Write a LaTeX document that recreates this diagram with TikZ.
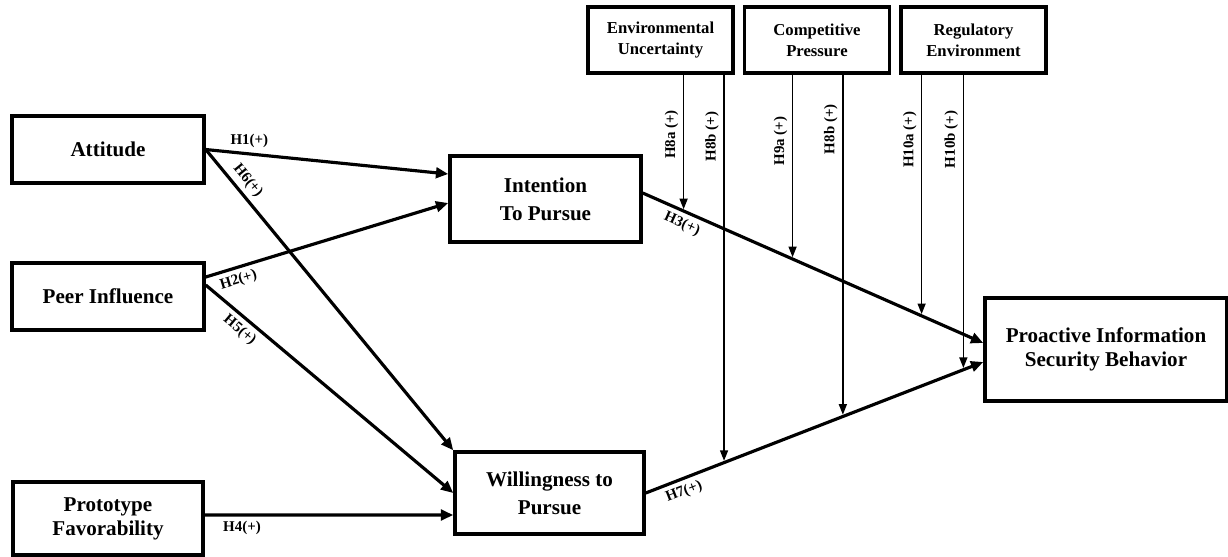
\documentclass[tikz,border=0pt]{standalone}
\usepackage{fontspec}
\setmainfont{Liberation Serif}
\usetikzlibrary{arrows.meta}

\begin{document}
\begin{tikzpicture}[x=0.02cm,y=-0.02cm,
  box/.style={draw,line width=2pt,inner sep=0pt,align=center,
    font=\fontsize{12}{13.5}\selectfont\bfseries},
  modbox/.style={draw,line width=1.8pt,inner sep=0pt,align=center,
    minimum width=2.9cm,minimum height=1.32cm,
    font=\fontsize{9.5}{12}\selectfont\bfseries},
  link/.style={line width=1.8pt,-{Triangle[length=7pt,width=6pt]}},
  mod/.style={line width=0.9pt,-{Triangle[length=6pt,width=4.5pt]},shorten >=1pt},
  hyp/.style={inner sep=2.5pt,font=\fontsize{8.5}{10}\selectfont\bfseries}]
\useasboundingbox (0,0) rectangle (1228,556);

% predictors
\node[box,minimum width=3.84cm,minimum height=1.34cm] (att) at (108,149.5) {Attitude};
\node[box,minimum width=3.84cm,minimum height=1.34cm] (peer) at (108,296.5) {Peer Influence};
\node[box,minimum width=3.8cm,minimum height=1.46cm] (proto) at (108,518.5) {Prototype\\Favorability};

% mediators and outcome
\node[box,minimum width=3.82cm,minimum height=1.72cm] (int) at (545.5,199) {Intention\\[2.5pt]To Pursue};
\node[box,minimum width=3.78cm,minimum height=1.64cm] (will) at (549.5,493) {Willingness to\\[2.5pt]Pursue};
\node[box,minimum width=4.84cm,minimum height=2.06cm] (pisb) at (1106,349.5) {Proactive Information\\Security Behavior};

% moderators
\node[modbox] (env) at (660.5,40) {Environmental\\Uncertainty};
\node[modbox] (comp) at (817,40) {Competitive\\Pressure};
\node[modbox] (reg) at (973.5,40) {Regulatory\\Environment};

% direct paths
\draw[link] (att.east) -- ([yshift=0.5cm]int.west) node[hyp,above,pos=0.18] {H1(+)};
\draw[link] (att.east) -- (will.north west) node[hyp,sloped,above,pos=0.13] {H6(+)};
\draw[link] ([yshift=0.39cm]peer.east) -- ([yshift=-0.08cm]int.west) node[hyp,sloped,below,pos=0.12] {H2(+)};
\draw[link] ([yshift=0.23cm]peer.east) -- (will.west) node[hyp,sloped,below,pos=0.17] {H5(+)};
\draw[link] ([yshift=0.07cm]proto.east) -- ([yshift=-0.44cm]will.west) node[hyp,below,pos=0.15] {H4(+)};
\draw[link] ([yshift=0.12cm]int.east) -- ([yshift=0.13cm]pisb.west)
  coordinate[pos=0.12] (m8a) coordinate[pos=0.44] (m9a) coordinate[pos=0.819] (m10a)
  node[hyp,sloped,below,pos=0.13] {H3(+)};
\draw[link] (will.east) -- ([yshift=-0.25cm]pisb.west)
  coordinate[pos=0.232] (m8b) coordinate[pos=0.584] (m9b) coordinate[pos=0.941] (m10b)
  node[hyp,sloped,below,pos=0.1] {H7(+)};

% moderating paths
\draw[mod] (env.south -| m8a) -- (m8a) node[hyp,rotate=90,anchor=south,pos=0.44] {H8a (+)};
\draw[mod] (env.south -| m8b) -- (m8b) node[hyp,rotate=90,anchor=south,pos=0.16] {H8b (+)};
\draw[mod] (comp.south -| m9a) -- (m9a) node[hyp,rotate=90,anchor=south,pos=0.36] {H9a (+)};
\draw[mod] (comp.south -| m9b) -- (m9b) node[hyp,rotate=90,anchor=south,pos=0.16] {H8b (+)};
\draw[mod] (reg.south -| m10a) -- (m10a) node[hyp,rotate=90,anchor=south,pos=0.27] {H10a (+)};
\draw[mod] (reg.south -| m10b) -- (m10b) node[hyp,rotate=90,anchor=south,pos=0.22] {H10b (+)};
\end{tikzpicture}
\end{document}
